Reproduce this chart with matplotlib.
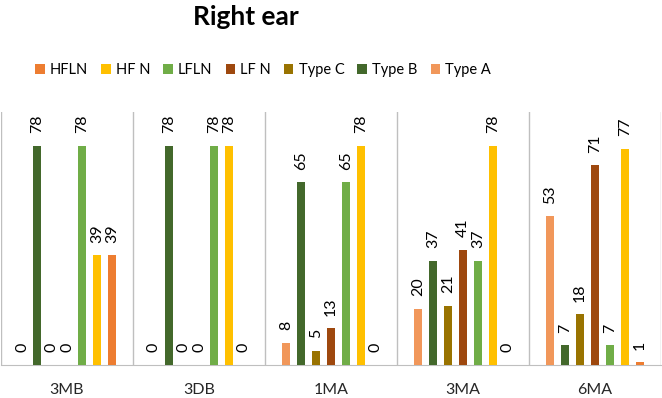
import matplotlib
matplotlib.use("Agg")
import matplotlib.pyplot as plt
import numpy as np

plt.rcParams['font.family'] = ['Lato', 'DejaVu Sans']

categories = ["3MB", "3DB", "1MA", "3MA", "6MA"]
series_names = ["Type A", "Type B", "Type C", "LF N", "LFLN", "HF N", "HFLN"]
type_a = [0, 0, 8, 20, 53]
type_b = [78, 78, 65, 37, 7]
type_c = [0, 0, 5, 21, 18]
lf_n = [0, 0, 13, 41, 71]
lfln = [78, 78, 65, 37, 7]
hf_n = [39, 78, 78, 78, 77]
hfln = [39, 0, 0, 0, 1]
series_values = [type_a, type_b, type_c, lf_n, lfln, hf_n, hfln]
colors = ["#F1975A", "#43682B", "#997300", "#9E480E", "#70AD47", "#FFC000", "#ED7D31"]

W, H = 662, 398
fig = plt.figure(figsize=(W / 100, H / 100), dpi=100)
ax = fig.add_axes([1 / W, 1 - 365 / H, 660 / W, (365 - 112) / H])

x = np.arange(len(categories)) + 0.5
slot = 15 / 132
bw = 7.3 / 132
handles = []
for j, (name, vals, c) in enumerate(zip(series_names, series_values, colors)):
    xs = x + (j - 3) * slot
    b = ax.bar(xs, vals, width=bw, color=c, label=name, zorder=3)
    handles.append(b)
    for xi, v in zip(xs, vals):
        ax.annotate(str(v), (xi, v), xytext=(0, 9), textcoords="offset points",
                    rotation=90, ha="center", va="bottom", fontsize=11.5, color="black")

ax.set_xlim(0, 5)
ax.set_ylim(0, 90)
for s in ["top", "right", "left"]:
    ax.spines[s].set_visible(False)
ax.spines["bottom"].set_color("#BFBFBF")
for b in range(0, 6):
    ax.axvline(b, color="#BFBFBF", linewidth=1, zorder=1)
ax.set_yticks([])
ax.set_xticks(x)
ax.set_xticklabels(categories, fontsize=11.5, color="#262626")
ax.tick_params(axis="x", length=0, pad=13)

fig.text(246 / W, 1 - 25 / H, "Right ear", ha="center", va="baseline",
         fontsize=19, fontweight="bold")

fig.legend(handles[::-1], series_names[::-1], loc="center", ncol=7,
           bbox_to_anchor=(263 / W, 1 - 70 / H), frameon=False, fontsize=10.5,
           handlelength=0.65, handleheight=0.65, handletextpad=0.35,
           columnspacing=0.9, borderpad=0)

fig.savefig("out.png", dpi=100)
